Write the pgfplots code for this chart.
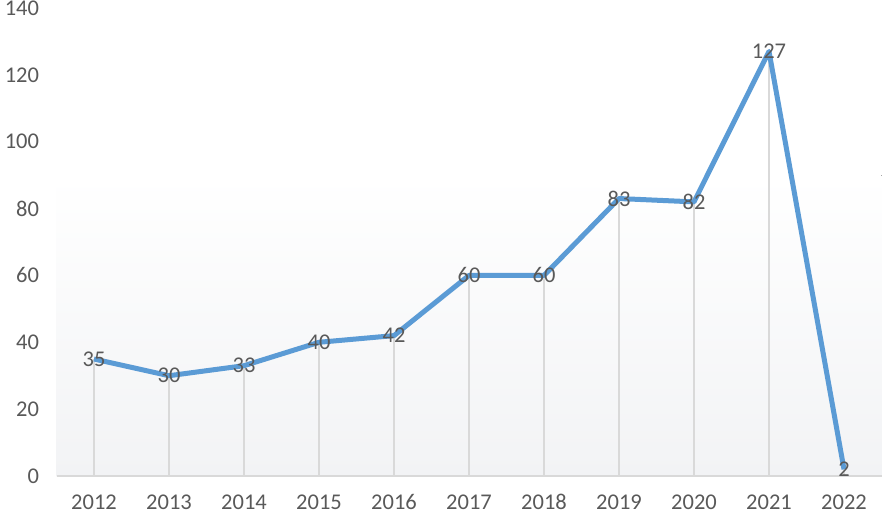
\documentclass[border=0pt]{standalone}
\usepackage{pgfplots}
\pgfplotsset{compat=1.18}
\usepackage{fontspec}
\setmainfont{Carlito}
\definecolor{txt}{HTML}{595959}
\definecolor{ln}{HTML}{5B9BD5}
\definecolor{drop}{HTML}{D9D9D9}
\definecolor{grad}{HTML}{F2F3F5}
\begin{document}
\begin{tikzpicture}
\useasboundingbox (0,0) rectangle (882pt,515pt);
\begin{axis}[
  at={(56.5pt,39pt)}, anchor=south west,
  scale only axis, width=825pt, height=468pt,
  xmin=-0.5, xmax=10.5, ymin=0, ymax=140,
  xtick={0,...,10},
  xticklabels={2012,2013,2014,2015,2016,2017,2018,2019,2020,2021,2022},
  ytick={0,20,...,140},
  axis line style={draw=none},
  tick style={draw=none},
  font=\fontsize{22.5}{26}\selectfont,
  /pgf/number format/assume math mode=true,
  tick label style={text=txt},
  yticklabel style={xshift=-14pt},
  xticklabel style={anchor=south, inner sep=0pt, text depth=0pt, text height=15pt, yshift=-34pt},
  clip=false,
]
\fill[top color=white, bottom color=grad] (axis cs:-0.5,0) rectangle (axis cs:10.5,90);
\draw[drop, line width=1.5pt] (axis cs:-0.5,0) -- (axis cs:10.5,0);
\addplot[ycomb, drop, line width=1.5pt, no marks] coordinates {
(0,35) (1,30) (2,33) (3,40) (4,42) (5,60) (6,60) (7,83) (8,82) (9,127) (10,2)};
\addplot[ln, line width=5pt, no marks, line join=round,
  nodes near coords, nodes near coords align=center,
  every node near coord/.append style={text=txt, anchor=center, font=\fontsize{22.5}{26}\selectfont, /pgf/number format/assume math mode=true}]
coordinates {
(0,35) (1,30) (2,33) (3,40) (4,42) (5,60) (6,60) (7,83) (8,82) (9,127) (10,2)};
\end{axis}
\end{tikzpicture}
\end{document}
